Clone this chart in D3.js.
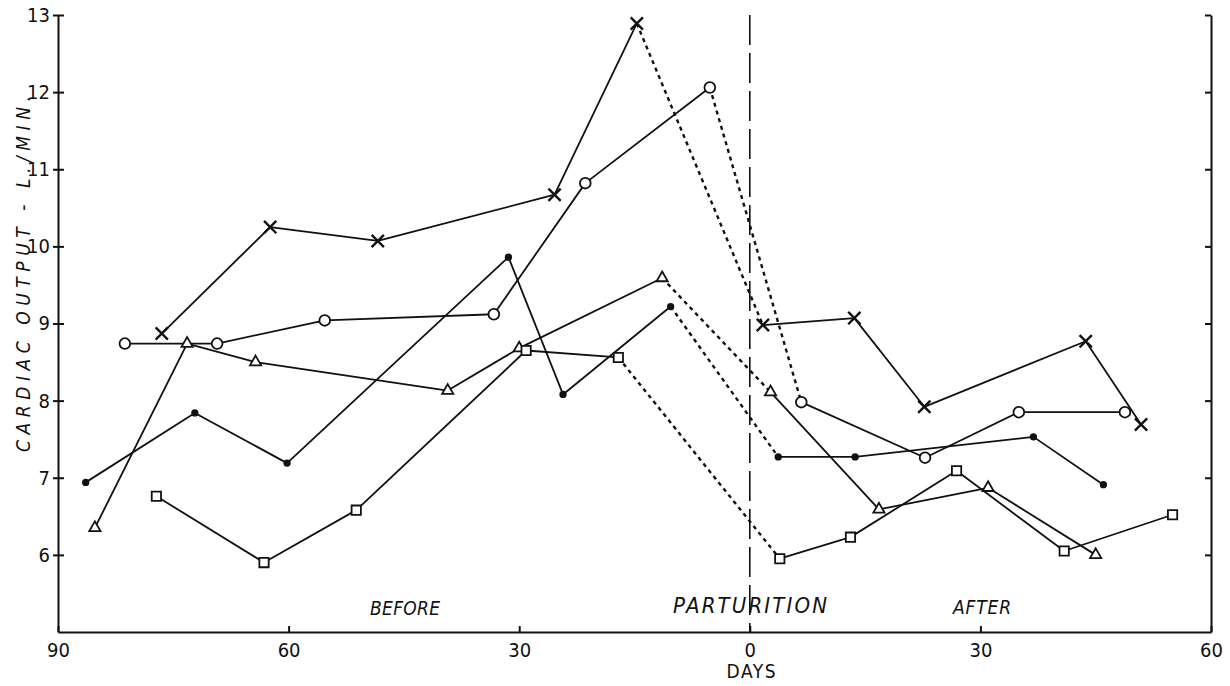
<!DOCTYPE html>
<head>
  <meta charset="utf-8">
  <script src="https://d3js.org/d3.v7.min.js"></script>
  <style>
    body { margin:0; background:#fff; }
    svg { display:block; }
    text { font-family:'DejaVu Sans Condensed','DejaVu Sans',sans-serif; fill:#111; }
    .axis path, .axis line { stroke:#111; stroke-width:2; fill:none; }
    .axis text { font-size:20px; }
    .seg { stroke:#111; stroke-width:1.8; fill:none; stroke-linecap:round; }
    .seg.dashed { stroke-width:2.4; stroke-dasharray:4,4; stroke-linecap:butt; }
    .birth-line { stroke:#111; stroke-width:1.6; stroke-dasharray:30,8; }
    .marker { stroke:#111; stroke-width:1.8; fill:#fff; }
    .marker.dot { fill:#111; stroke:none; }
    .marker.cross { stroke-width:2.4; }
    .note { font-style:italic; }
  </style>
</head>

<body>
  <script>
    var width = 1230, height = 686;

    // day 0 = parturition, negative = before
    var xTicks = [-90, -60, -30, 0, 30, 60];
    var yTicks = [6, 7, 8, 9, 10, 11, 12, 13];

    var crossDays = [-76.5, -62.4, -48.4, -25.4, -14.7, 1.7, 13.6, 22.7, 43.7, 50.9];
    var crossValues = [8.87, 10.25, 10.07, 10.67, 12.89, 8.98, 9.07, 7.92, 8.77, 7.69];

    var circleDays = [-81.3, -69.3, -55.3, -33.3, -21.4, -5.2, 6.7, 22.8, 35.0, 48.8];
    var circleValues = [8.74, 8.74, 9.04, 9.12, 10.82, 12.06, 7.98, 7.26, 7.85, 7.85];

    var dotDays = [-86.4, -72.2, -60.2, -31.4, -24.3, -10.3, 3.7, 13.7, 36.9, 46.0];
    var dotValues = [6.94, 7.84, 7.19, 9.86, 8.08, 9.22, 7.27, 7.27, 7.53, 6.91];

    var triangleDays = [-85.2, -73.2, -64.3, -39.3, -30.0, -11.4, 2.7, 16.8, 31.0, 45.0];
    var triangleValues = [6.35, 8.74, 8.50, 8.13, 8.68, 9.59, 8.11, 6.59, 6.87, 6.00];

    var squareDays = [-77.2, -63.2, -51.2, -29.1, -17.1, 3.9, 13.1, 26.9, 40.9, 55.0];
    var squareValues = [6.76, 5.90, 6.58, 8.65, 8.56, 5.95, 6.23, 7.09, 6.05, 6.52];

    var series = [
      {marker: "cross", days: crossDays, values: crossValues},
      {marker: "circle", days: circleDays, values: circleValues},
      {marker: "dot", days: dotDays, values: dotValues},
      {marker: "triangle", days: triangleDays, values: triangleValues},
      {marker: "square", days: squareDays, values: squareValues}
    ];

    var svg = d3.select("body").append("svg")
      .attr("width", width)
      .attr("height", height);

    var x = d3.scaleLinear().domain([-90, 60]).range([58, 1211]);
    var y = d3.scaleLinear().domain([5, 13]).range([632, 15]);

    // axes
    var leftAxis = svg.append("g")
      .attr("class", "axis")
      .attr("transform", "translate(" + [x(-90), 0] + ")")
      .call(d3.axisLeft(y).tickValues(yTicks).tickSize(5).tickSizeOuter(0).tickPadding(3));
    // the hand-drawn ticks sit across the line
    leftAxis.selectAll(".tick line").attr("x1", 6);

    svg.append("g")
      .attr("class", "axis")
      .attr("transform", "translate(" + [x(60), 0] + ")")
      .call(d3.axisRight(y).tickValues(yTicks).tickSize(-6).tickSizeOuter(0).tickFormat(""));

    svg.append("g")
      .attr("class", "axis")
      .attr("transform", "translate(" + [0, y(5)] + ")")
      .call(d3.axisBottom(x).tickValues(xTicks).tickSize(-6).tickSizeOuter(0).tickPadding(11)
        .tickFormat(d => Math.abs(d)));

    svg.append("line")
      .attr("class", "birth-line")
      .attr("x1", x(0)).attr("x2", x(0))
      .attr("y1", y(13)).attr("y2", y(5));

    // segments, the one across parturition is dashed
    var segs = [];
    series.forEach(s => {
      for (var i = 0; i < s.days.length - 1; i++) {
        segs.push({
          a: [s.days[i], s.values[i]],
          b: [s.days[i + 1], s.values[i + 1]],
          cross: s.days[i] < 0 && s.days[i + 1] > 0
        });
      }
    });

    svg.append("g").selectAll("line")
      .data(segs)
      .enter().append("line")
        .attr("class", d => d.cross ? "seg dashed" : "seg")
        .attr("x1", d => x(d.a[0])).attr("y1", d => y(d.a[1]))
        .attr("x2", d => x(d.b[0])).attr("y2", d => y(d.b[1]));

    var shapes = {
      cross: d3.symbol().type(d3.symbolTimes).size(100),
      circle: d3.symbol().type(d3.symbolCircle).size(90),
      dot: d3.symbol().type(d3.symbolCircle).size(42),
      triangle: d3.symbol().type(d3.symbolTriangle2).size(90),
      square: d3.symbol().type(d3.symbolSquare2).size(110)
    };

    series.forEach(s => {
      svg.append("g").selectAll("path")
        .data(s.days.map((d, i) => [d, s.values[i]]))
        .enter().append("path")
          .attr("class", "marker " + s.marker)
          .attr("transform", d => "translate(" + [x(d[0]), y(d[1])] + ")")
          .attr("d", shapes[s.marker]());
    });

    // labels
    svg.append("text")
      .attr("class", "note")
      .attr("transform", "translate(30,274) rotate(-90)")
      .attr("text-anchor", "middle")
      .attr("textLength", 356)
      .attr("lengthAdjust", "spacing")
      .style("font-size", "19px")
      .text("CARDIAC OUTPUT - L./MIN.");

    svg.append("text")
      .attr("class", "note")
      .attr("x", 405).attr("y", 615)
      .attr("text-anchor", "middle")
      .attr("textLength", 70)
      .attr("lengthAdjust", "spacing")
      .style("font-size", "19px")
      .text("BEFORE");

    svg.append("text")
      .attr("class", "note")
      .attr("x", 750).attr("y", 613)
      .attr("text-anchor", "middle")
      .attr("textLength", 154)
      .attr("lengthAdjust", "spacing")
      .style("font-size", "22px")
      .text("PARTURITION");

    svg.append("text")
      .attr("class", "note")
      .attr("x", 982).attr("y", 614)
      .attr("text-anchor", "middle")
      .attr("textLength", 58)
      .attr("lengthAdjust", "spacing")
      .style("font-size", "19px")
      .text("AFTER");

    svg.append("text")
      .attr("x", 751).attr("y", 678)
      .attr("text-anchor", "middle")
      .attr("textLength", 49)
      .attr("lengthAdjust", "spacing")
      .style("font-size", "19px")
      .text("DAYS");
  </script>
</body>
